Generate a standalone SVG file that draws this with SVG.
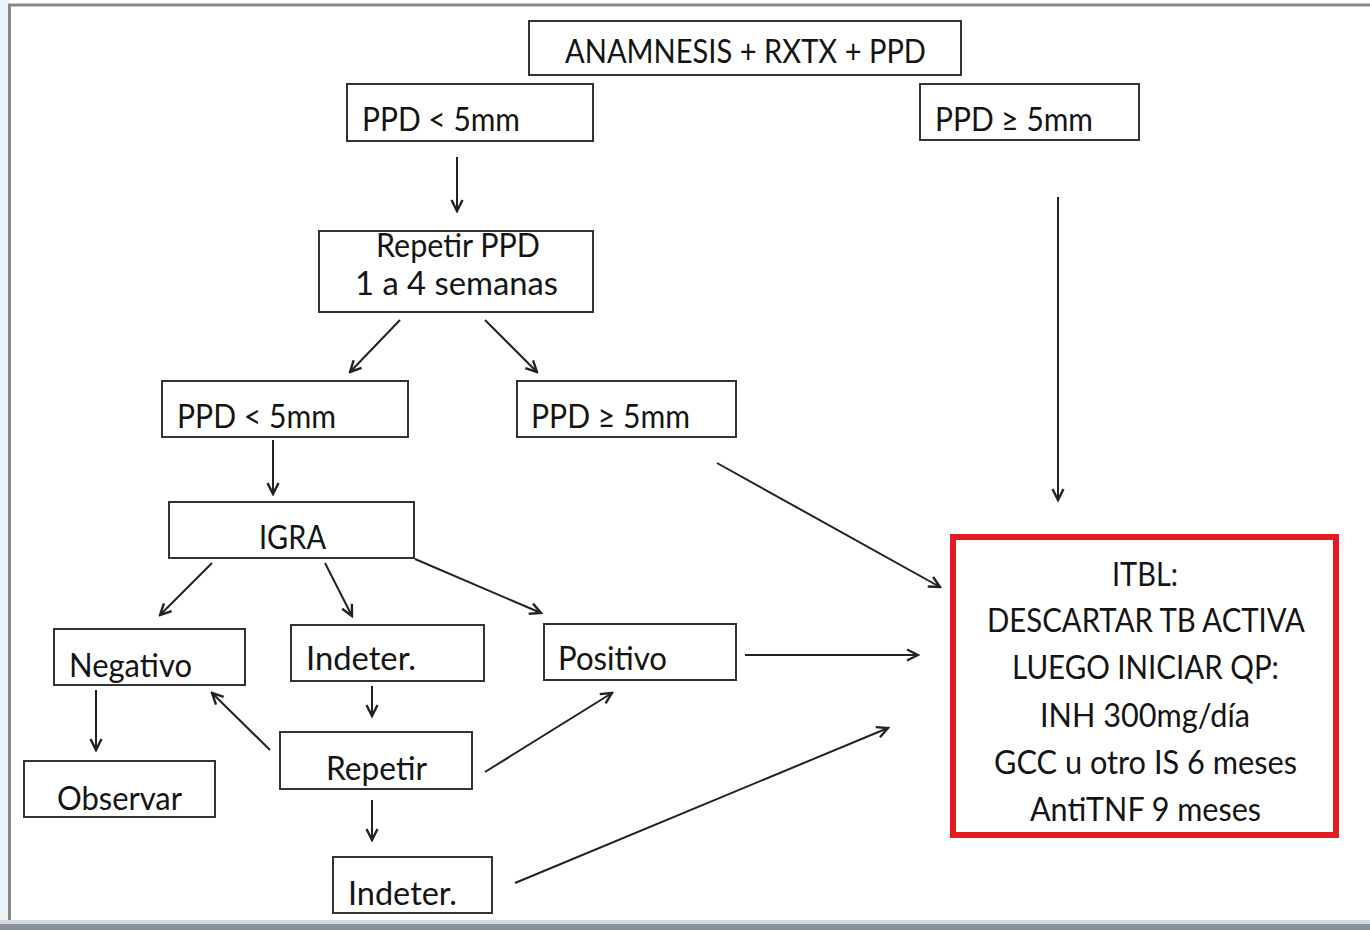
<svg xmlns="http://www.w3.org/2000/svg" width="1370" height="930" viewBox="0 0 1370 930">
<defs>
<style>
.box{fill:#fff;stroke:#333;stroke-width:2}
.red{fill:#fff;stroke:#e31b23;stroke-width:6}
.t{font-family:Lato,"Open Sans",sans-serif;font-size:33px;fill:#141414}
.c{text-anchor:middle}
.ln{stroke:#222;stroke-width:2;fill:none;marker-end:url(#ah)}
</style>
<marker id="ah" viewBox="0 0 14 14" refX="12" refY="7" markerWidth="14" markerHeight="14" markerUnits="userSpaceOnUse" orient="auto">
<path d="M1,1.5 L12,7 L1,12.5" fill="none" stroke="#222" stroke-width="2.4" stroke-linejoin="miter"/>
</marker>
</defs>
<rect x="0" y="0" width="1370" height="930" fill="#fff"/>
<rect x="0" y="0" width="9" height="930" fill="#eef3f8"/>
<line x1="9.5" y1="4" x2="9.5" y2="926" stroke="#888" stroke-width="3"/>
<line x1="8" y1="5" x2="1370" y2="5" stroke="#888" stroke-width="3"/>
<rect x="0" y="924" width="1370" height="6" fill="#8a9098"/>
<rect x="0" y="920" width="1370" height="4" fill="#d5d8dc"/>

<g id="connectors">
<line class="ln" x1="457" y1="157" x2="457" y2="211"/>
<line class="ln" x1="400" y1="320" x2="350" y2="372"/>
<line class="ln" x1="485" y1="320" x2="537" y2="372"/>
<line class="ln" x1="273" y1="440" x2="273" y2="494"/>
<line class="ln" x1="212" y1="563" x2="160" y2="615"/>
<line class="ln" x1="325" y1="563" x2="352" y2="616"/>
<line class="ln" x1="415" y1="559" x2="541" y2="613"/>
<line class="ln" x1="96" y1="690" x2="96" y2="750"/>
<line class="ln" x1="372" y1="686" x2="372" y2="716"/>
<line class="ln" x1="270" y1="750" x2="212" y2="693"/>
<line class="ln" x1="485" y1="772" x2="612" y2="693"/>
<line class="ln" x1="372" y1="800" x2="372" y2="840"/>
<line class="ln" x1="515" y1="883" x2="888" y2="728"/>
<line class="ln" x1="745" y1="655" x2="918" y2="655"/>
<line class="ln" x1="717" y1="463" x2="940" y2="587"/>
<line class="ln" x1="1058" y1="197" x2="1058" y2="500"/>
</g>

<g id="n-anamnesis"><rect class="box" x="529" y="21" width="432" height="54"/><text class="t" x="565" y="63" textLength="361" lengthAdjust="spacingAndGlyphs">ANAMNESIS + RXTX + PPD</text></g>
<g id="n-ppd-lt-1"><rect class="box" x="347" y="84" width="246" height="57"/><text class="t" x="362" y="131" textLength="158" lengthAdjust="spacingAndGlyphs">PPD &lt; 5mm</text></g>
<g id="n-ppd-ge-1"><rect class="box" x="920" y="84" width="219" height="56"/><text class="t" x="935" y="131" textLength="158" lengthAdjust="spacingAndGlyphs">PPD ≥ 5mm</text></g>
<g id="n-repetir-ppd"><rect class="box" x="319" y="231" width="274" height="81"/><text class="t" x="376" y="257" textLength="164" lengthAdjust="spacingAndGlyphs">Repetir PPD</text><text class="t" x="355" y="295" textLength="203" lengthAdjust="spacingAndGlyphs">1 a  4 semanas</text></g>
<g id="n-ppd-lt-2"><rect class="box" x="162" y="381" width="246" height="56"/><text class="t" x="177" y="428" textLength="159" lengthAdjust="spacingAndGlyphs">PPD &lt; 5mm</text></g>
<g id="n-ppd-ge-2"><rect class="box" x="517" y="381" width="219" height="56"/><text class="t" x="531" y="428" textLength="159" lengthAdjust="spacingAndGlyphs">PPD ≥ 5mm</text></g>
<g id="n-igra"><rect class="box" x="169" y="502" width="245" height="56"/><text class="t" x="259" y="549" textLength="67" lengthAdjust="spacingAndGlyphs">IGRA</text></g>
<g id="n-negativo"><rect class="box" x="54" y="629" width="191" height="56"/><text class="t" x="69" y="677" textLength="123" lengthAdjust="spacingAndGlyphs">Negativo</text></g>
<g id="n-indeter-1"><rect class="box" x="291" y="625" width="193" height="56"/><text class="t" x="306" y="670" textLength="110" lengthAdjust="spacingAndGlyphs">Indeter.</text></g>
<g id="n-positivo"><rect class="box" x="544" y="624" width="192" height="56"/><text class="t" x="558" y="670" textLength="109" lengthAdjust="spacingAndGlyphs">Positivo</text></g>
<g id="n-observar"><rect class="box" x="24" y="761" width="191" height="56"/><text class="t" x="57" y="810" textLength="125" lengthAdjust="spacingAndGlyphs">Observar</text></g>
<g id="n-repetir"><rect class="box" x="280" y="732" width="192" height="57"/><text class="t" x="326" y="780" textLength="101" lengthAdjust="spacingAndGlyphs">Repetir</text></g>
<g id="n-indeter-2"><rect class="box" x="333" y="857" width="159" height="56"/><text class="t" x="348" y="905" textLength="109" lengthAdjust="spacingAndGlyphs">Indeter.</text></g>
<g id="n-itbl"><rect class="red" x="953" y="537" width="383" height="298"/>
<text class="t" x="1112" y="586" textLength="66" lengthAdjust="spacingAndGlyphs">ITBL:</text>
<text class="t" x="987" y="632" textLength="318" lengthAdjust="spacingAndGlyphs">DESCARTAR TB ACTIVA</text>
<text class="t" x="1012" y="679" textLength="267" lengthAdjust="spacingAndGlyphs">LUEGO INICIAR QP:</text>
<text class="t" x="1040" y="727" textLength="210" lengthAdjust="spacingAndGlyphs">INH 300mg/día</text>
<text class="t" x="994" y="774" textLength="303" lengthAdjust="spacingAndGlyphs">GCC u otro IS 6 meses</text>
<text class="t" x="1030" y="821" textLength="231" lengthAdjust="spacingAndGlyphs">AntiTNF 9 meses</text>
</g>
</svg>
